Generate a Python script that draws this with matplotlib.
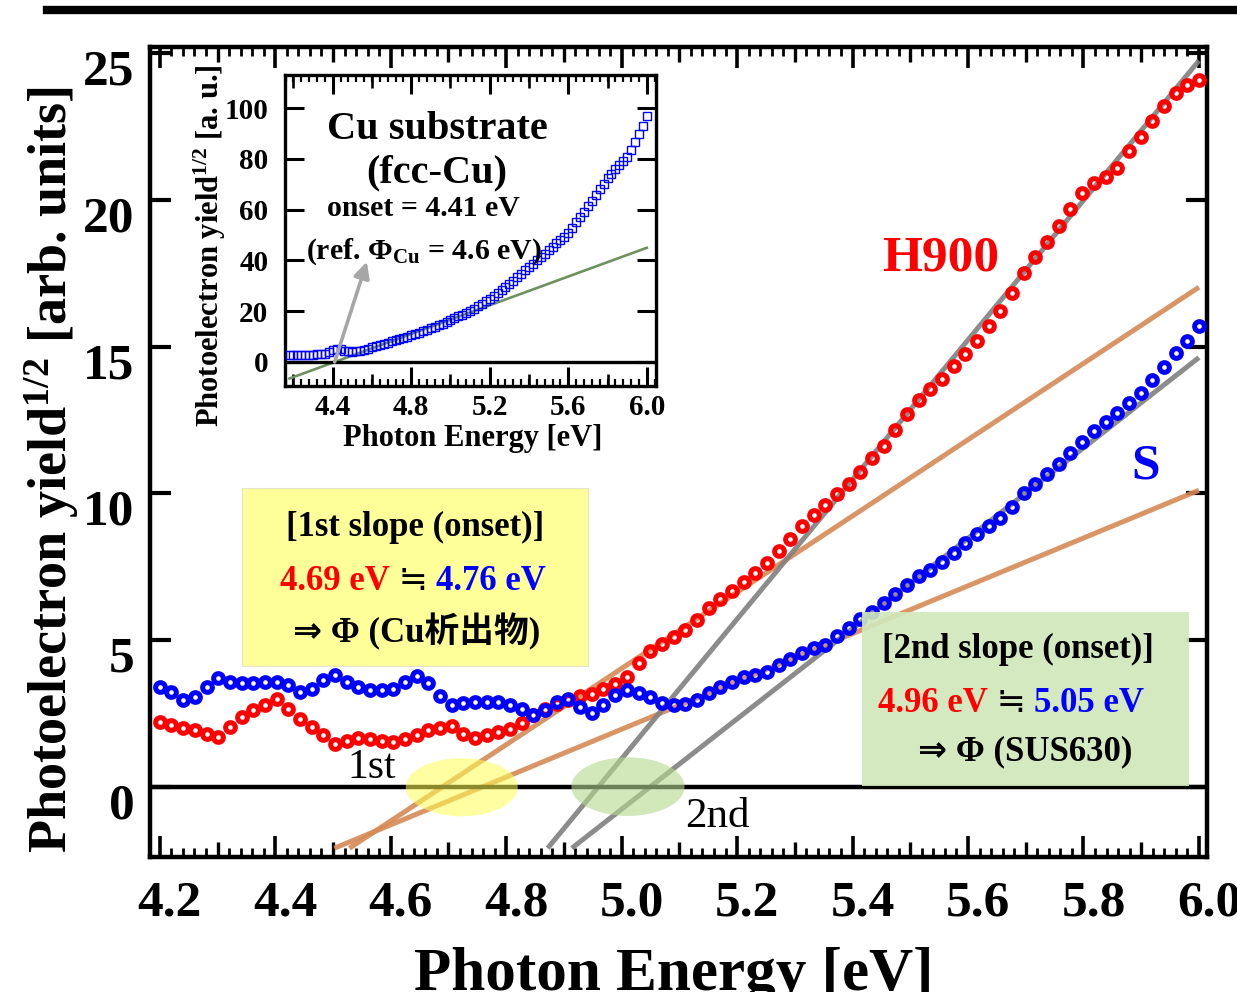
import numpy as np
import matplotlib
matplotlib.use("Agg")
import matplotlib.pyplot as plt
import matplotlib.transforms as mtrans
from matplotlib.patches import Ellipse, Rectangle
from matplotlib.ticker import MultipleLocator

plt.rcParams["font.family"] = ["Liberation Serif", "DejaVu Sans", "Noto Sans CJK JP"]
plt.rcParams["font.weight"] = "bold"
plt.rcParams["mathtext.fontset"] = "custom"
plt.rcParams["mathtext.rm"] = "Liberation Serif:bold"
plt.rcParams["mathtext.bf"] = "Liberation Serif:bold"
plt.rcParams["mathtext.it"] = "Liberation Serif:bold:italic"

# photon energy scan (eV)
energy = np.linspace(4.20, 6.00, 90)

# photoelectron yield^(1/2), H900 (red) and S (blue)
h900 = [2.20, 2.11, 2.00, 1.92, 1.80, 1.69, 2.03, 2.37, 2.60, 2.77,
        2.99, 2.65, 2.31, 2.03, 1.75, 1.46, 1.54, 1.66, 1.63, 1.54,
        1.52, 1.63, 1.77, 1.92, 2.00, 2.06, 1.80, 1.65, 1.75, 1.86,
        1.97, 2.18, 2.45, 2.65, 2.82, 2.94, 3.08, 3.16, 3.33, 3.50,
        3.73, 4.22, 4.64, 4.88, 5.09, 5.35, 5.68, 6.08, 6.39, 6.68,
        6.98, 7.30, 7.62, 8.04, 8.44, 8.88, 9.25, 9.59, 9.98, 10.32,
        10.73, 11.20, 11.62, 12.15, 12.69, 13.17, 13.55, 13.91, 14.35, 14.76,
        15.21, 15.69, 16.22, 16.82, 17.51, 18.05, 18.58, 19.12, 19.68, 20.25,
        20.57, 20.79, 21.11, 21.68, 22.15, 22.70, 23.22, 23.65, 23.91, 24.10]

sample_s = [3.39, 3.22, 2.94, 3.05, 3.39, 3.70, 3.58, 3.53, 3.53, 3.58,
            3.58, 3.47, 3.24, 3.33, 3.62, 3.81, 3.58, 3.39, 3.28, 3.31,
            3.33, 3.56, 3.77, 3.54, 3.08, 2.79, 2.86, 2.88, 2.88, 2.88,
            2.79, 2.65, 2.45, 2.60, 2.90, 2.99, 2.71, 2.51, 2.77, 3.13,
            3.28, 3.18, 3.04, 2.86, 2.78, 2.82, 2.97, 3.20, 3.39, 3.56,
            3.73, 3.82, 3.92, 4.14, 4.36, 4.57, 4.72, 4.83, 5.14, 5.40,
            5.70, 5.94, 6.27, 6.56, 6.86, 7.17, 7.38, 7.65, 7.98, 8.30,
            8.61, 8.87, 9.17, 9.55, 10.00, 10.31, 10.65, 10.99, 11.36, 11.74,
            12.12, 12.43, 12.74, 13.08, 13.42, 13.85, 14.31, 14.78, 15.21, 15.71]

# linear fits: onset (eV) and slope, H900 1st, S 1st, H900 2nd, S 2nd
fit_onset = [4.69, 4.76, 4.96, 5.05]
fit_slope = [13.0, 8.15, 23.8, 15.4]
fit_color = ["#D68A55", "#D68A55", "#808080", "#808080"]

# Cu substrate (inset)
energy_cu = np.round(np.arange(4.18, 6.001, 0.02), 2)
cu = [2.6, 2.6, 2.7, 2.7, 2.8, 2.8, 2.9, 3.0, 3.1, 3.3,
      3.9, 4.8, 5.3, 5.0, 4.5, 4.2, 4.1, 4.2, 4.4, 4.8,
      5.3, 5.8, 6.3, 6.8, 7.2, 7.6, 8.1, 8.6, 9.0, 9.5,
      10.0, 10.5, 11.0, 11.6, 12.1, 12.7, 13.3, 13.8, 14.4, 15.0,
      15.8, 16.6, 17.3, 18.0, 18.7, 19.4, 20.2, 21.0, 21.9, 22.9,
      24.0, 25.0, 26.1, 27.2, 28.3, 29.5, 30.7, 32.0, 33.4, 34.8,
      36.2, 37.5, 38.8, 40.1, 41.4, 42.7, 44.0, 45.3, 46.7, 48.0,
      49.3, 50.7, 52.8, 55.0, 57.1, 59.3, 61.5, 63.6, 65.8, 68.0,
      70.2, 72.4, 74.2, 75.9, 77.6, 79.2, 80.8, 83.5, 86.5, 90.0,
      93.0, 97.0]
cu_onset = 4.41
cu_slope = 28.3

W, H = 1237, 992
fig = plt.figure(figsize=(W / 100, H / 100), dpi=100)


def box(x0, y0, x1, y1):
    return [x0 / W, 1 - y1 / H, (x1 - x0) / W, (y1 - y0) / H]


def med_ticks(a, ticks, length, width):
    for loc in ("bottom", "top"):
        sec = a.secondary_xaxis(loc)
        sec.set_xticks(ticks)
        sec.tick_params(direction="in", length=length, width=width,
                        labelbottom=False, labeltop=False)
        sec.spines[loc].set_visible(False)


# ---- main panel ----
ax = fig.add_axes(box(150, 47, 1207, 857))
ax.set_xlim(4.183, 6.014)
ax.set_ylim(-2.40, 25.22)

for onset, slope, col in zip(fit_onset, fit_slope, fit_color):
    xs = np.array([onset - 2.1 / slope, 6.0])
    ax.plot(xs, slope * (xs - onset), color=col, lw=3.6, alpha=0.9,
            solid_capstyle="butt", zorder=2)

ax.axhline(0, color="black", lw=3.2, zorder=3)

ax.plot(energy, h900, "o", mfc="none", mec="#FF0000", ms=7.0, mew=3.6, zorder=4)
ax.plot(energy, sample_s, "o", mfc="none", mec="#0000FF", ms=7.0, mew=3.6, zorder=4)

ax.add_patch(Ellipse((4.723, -0.02), 0.194, 1.98, facecolor="#FFFF55",
                     alpha=0.55, lw=0, zorder=5))
ax.add_patch(Ellipse((5.011, 0.0), 0.196, 2.0, facecolor="#B5D98F",
                     alpha=0.6, lw=0, zorder=5))

ax.text(4.567, 0.64, "1st", fontsize=30, fontweight="normal",
        ha="center", va="center", zorder=6)
ax.text(5.165, -1.04, "2nd", fontsize=31, fontweight="normal",
        ha="center", va="center", zorder=6)

ax.text(5.552, 18.02, "H900", color="#FF0000", fontsize=37,
        ha="center", va="center")
ax.text(5.907, 10.9, "S", color="#0000FF", fontsize=37,
        ha="center", va="center")

# onset boxes
ax.add_patch(Rectangle((4.342, 4.12), 0.600, 6.06, facecolor="#FFFF99",
                       edgecolor="#E4E4C8", lw=0.8, zorder=6))
ax.add_patch(Rectangle((5.417, 0.02), 0.565, 5.94, facecolor="#D2E8BC",
                       edgecolor="none", alpha=0.92, zorder=6))

ax.text(4.642, 8.85, "[1st slope (onset)]", fontsize=25,
        ha="center", va="center", zorder=7)
ax.text(4.645, 5.27, "⇒ Φ (Cu析出物)", fontsize=25,
        ha="center", va="center", zorder=7)
ax.text(5.687, 4.66, "[2nd slope (onset)]", fontsize=25,
        ha="center", va="center", zorder=7)
ax.text(5.699, 1.18, "⇒ Φ (SUS630)", fontsize=25,
        ha="center", va="center", zorder=7)

for x0, y0, red_txt, blue_txt in [(4.408, 6.69, "4.69 eV", "4.76 eV"),
                                  (5.444, 2.56, "4.96 eV", "5.05 eV")]:
    t1 = ax.text(x0, y0, red_txt, color="#FF0000", fontsize=25,
                 ha="left", va="baseline", zorder=7)
    t2 = ax.annotate(" ≒ ", xy=(1, 0), xycoords=t1, fontsize=25,
                     fontweight="normal", ha="left", va="bottom", zorder=7)
    ax.annotate(blue_txt, xy=(1, 0), xycoords=t2, color="#0000FF",
                fontsize=25, ha="left", va="bottom", zorder=7)

ax.set_xticks(np.arange(4.2, 6.01, 0.2))
ax.set_xticklabels([f"{v:.1f}" for v in np.arange(4.2, 6.01, 0.2)])
ax.xaxis.set_minor_locator(MultipleLocator(0.02))
ax.set_yticks([0, 5, 10, 15, 20, 25])
ax.tick_params(axis="x", which="major", direction="in", length=15, width=2.6,
               top=True, bottom=True, labelsize=37, pad=17)
ax.tick_params(axis="x", which="minor", direction="in", length=6.5, width=2.0,
               top=True, bottom=True)
ax.tick_params(axis="y", which="major", direction="in", length=15, width=3,
               left=True, right=True, labelsize=37, pad=11)
med_ticks(ax, np.arange(4.3, 6.0, 0.2), 10.5, 2.4)
for s in ax.spines.values():
    s.set_linewidth(3.2)

dx = mtrans.ScaledTranslation(10 / 100, 0, fig.dpi_scale_trans)
for lab in ax.get_xticklabels():
    lab.set_transform(lab.get_transform() + dx)
dy = mtrans.ScaledTranslation(0, -14 / 100, fig.dpi_scale_trans)
for lab in ax.get_yticklabels():
    lab.set_transform(lab.get_transform() + dy)

fig.text(674 / W, 1 - 990 / H, "Photon Energy [eV]", fontsize=44,
         ha="center", va="baseline")
fig.text(52 / W, 1 - 470 / H, r"Photoelectron yield$^{1/2}$ [arb. units]",
         fontsize=39, rotation=90, ha="center", va="center")

# ---- inset: Cu substrate ----
axin = fig.add_axes(box(285, 75, 656, 386))
axin.set_xlim(4.157, 6.047)
axin.set_ylim(-9.47, 113.1)
xf = np.array([4.18, 6.0])
axin.plot(xf, cu_slope * (xf - cu_onset), color="#6E9160", lw=1.9, zorder=2)
axin.axhline(0, color="black", lw=2.4, zorder=2)
axin.plot(energy_cu, cu, "s", mfc="none", mec="#0000FF", ms=5.5, mew=1.0, zorder=3)
axin.annotate("", xy=(4.574, 39.5), xytext=(cu_onset, 0),
              arrowprops=dict(arrowstyle="-|>", color="#A6A6A6", lw=2.6,
                              mutation_scale=24, shrinkA=0, shrinkB=0),
              zorder=4)

axin.text(4.933, 91.5, "Cu substrate", fontsize=29, ha="center", va="center")
axin.text(4.931, 74.6, "(fcc-Cu)", fontsize=29, ha="center", va="center")
axin.text(4.863, 60.6, "onset = 4.41 eV", fontsize=21.5, ha="center", va="center")
axin.text(4.866, 43.4, r"(ref. Φ$_{\mathrm{Cu}}$ = 4.6 eV)", fontsize=21.5,
          ha="center", va="center")

axin.set_xticks([4.4, 4.8, 5.2, 5.6, 6.0])
axin.set_xticklabels(["4.4", "4.8", "5.2", "5.6", "6.0"])
axin.xaxis.set_minor_locator(MultipleLocator(0.04))
axin.set_yticks([0, 20, 40, 60, 80, 100])
axin.tick_params(axis="x", which="major", direction="in", length=14, width=2.2,
                 top=True, bottom=True, labelsize=21, pad=5.5)
axin.tick_params(axis="x", which="minor", direction="in", length=5, width=1.6,
                 top=True, bottom=True)
axin.tick_params(axis="y", which="major", direction="in", length=14, width=2.2,
                 left=True, right=True, labelsize=21, pad=12)
med_ticks(axin, [4.2, 4.6, 5.0, 5.4, 5.8], 9, 1.9)
for s in axin.spines.values():
    s.set_linewidth(2.4)

fig.text(473 / W, 1 - 446 / H, "Photon Energy [eV]", fontsize=22,
         ha="center", va="baseline")
fig.text(210 / W, 1 - 245.5 / H, r"Photoelectron yield$^{1/2}$ [a. u.]",
         fontsize=22, rotation=90, ha="center", va="center")

# heading rule along the top edge
fig.add_artist(plt.Line2D([47 / W, 1.0], [1 - 10 / H, 1 - 10 / H],
                          color="black", lw=6))

fig.savefig("out.png", dpi=100)
